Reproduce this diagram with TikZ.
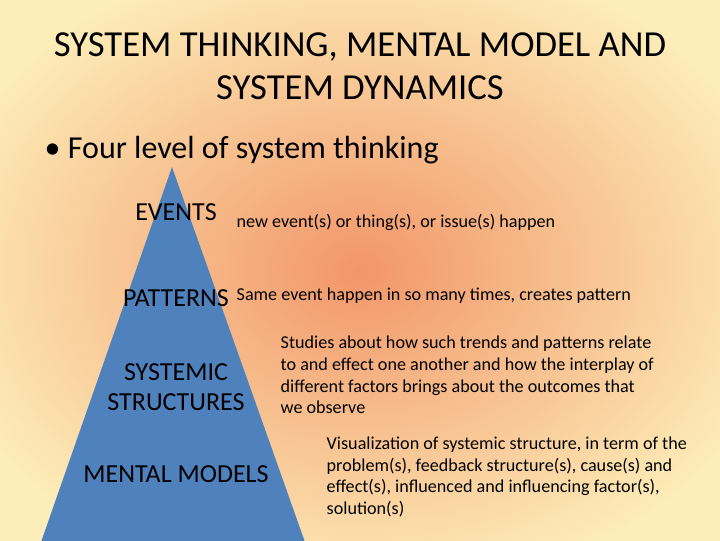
\documentclass[tikz,border=0pt]{standalone}
\usepackage{fontspec}
\setmainfont{Carlito}
\definecolor{bgin}{RGB}{242,150,105}
\definecolor{bgout}{RGB}{253,238,185}
\definecolor{tri}{RGB}{79,129,189}
\begin{document}
\begin{tikzpicture}[x=0.75pt,y=-0.75pt,
  lvl/.style={font=\fontsize{19.5}{22}\selectfont,align=center,text=black},
  note/.style={font=\fontsize{13.6}{16.2}\selectfont,align=left,anchor=west,text=black}]
\useasboundingbox (0,0) rectangle (720,540);
\shade[inner color=bgin,outer color=bgout] (-80,-60) rectangle (800,600);
\node[font=\fontsize{27.5}{32}\selectfont,align=center] (title) at (360,66) {SYSTEM THINKING, MENTAL MODEL AND\\SYSTEM DYNAMICS};
\node[font=\fontsize{24}{28}\selectfont,anchor=west] (bul) at (40,150) {\textbullet\ Four level of system thinking};
\fill[tri] (172,167) -- (306,545) -- (40,545) -- cycle;
\node[lvl] (ev) at (176,212) {EVENTS};
\node[lvl] (pa) at (176,298) {PATTERNS};
\node[lvl] (ss) at (176,387) {SYSTEMIC\\STRUCTURES};
\node[lvl] (mm) at (176,474) {MENTAL MODELS};
\node[note] (n1) at (232,222) {new event(s) or thing(s), or issue(s) happen};
\node[note] (n2) at (232,296) {Same event happen in so many times, creates pattern};
\node[note] (n3) at (276,375) {Studies about how such trends and patterns relate\\to and effect one another and how the interplay of\\different factors brings about the outcomes that\\we observe};
\node[note] (n4) at (322,477) {Visualization of systemic structure, in term of the\\problem(s), feedback structure(s), cause(s) and\\effect(s), influenced and influencing factor(s),\\solution(s)};
\end{tikzpicture}
\end{document}
